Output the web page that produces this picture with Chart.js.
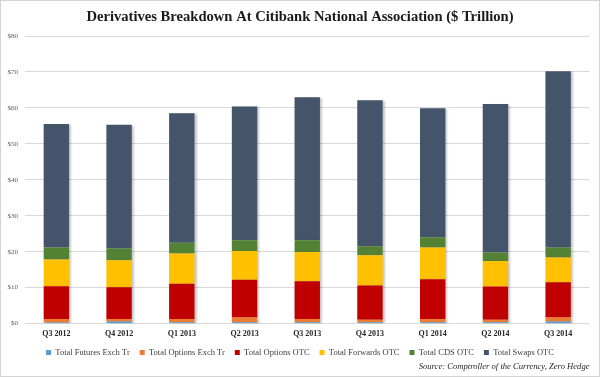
<!DOCTYPE html>
<html>
<head>
<meta charset="utf-8">
<script src="https://cdn.jsdelivr.net/npm/chart.js@4/dist/chart.umd.min.js"></script>
<style>
  html, body { margin: 0; padding: 0; background: #fff; }
  #wrap { width: 600px; height: 377px; }
</style>
</head>
<body>
<div id="wrap"><canvas id="chart" width="600" height="377"></canvas></div>
<script>
const quarters = ['Q3 2012', 'Q4 2012', 'Q1 2013', 'Q2 2013', 'Q3 2013', 'Q4 2013', 'Q1 2014', 'Q2 2014', 'Q3 2014'];

// $ trillion
const futuresExch = [0.3, 0.6, 0.4, 0.4, 0.4, 0.4, 0.4, 0.4, 0.6];
const optionsExch = [1.0, 0.7, 0.9, 1.3, 0.9, 0.7, 0.9, 0.7, 1.1];
const optionsOtc  = [9.1, 8.8, 9.8, 10.5, 10.5, 9.5, 11.0, 9.2, 9.8];
const forwardsOtc = [7.4, 7.5, 8.4, 8.0, 8.1, 8.4, 8.9, 7.1, 6.9];
const cdsOtc      = [3.4, 3.3, 3.0, 3.0, 3.3, 2.5, 2.8, 2.4, 2.8];
const swapsOtc    = [34.3, 34.4, 36.0, 37.2, 39.8, 40.6, 35.9, 41.3, 49.0];

const yTicks = [0, 10, 20, 30, 40, 50, 60, 70, 80];

const serif = "'Liberation Serif', 'DejaVu Serif', serif";

// soft shadow to the right of the bars, plus the thin frame round the picture
const extras = {
  id: 'extras',
  beforeDatasetsDraw(chart) {
    const ctx = chart.ctx;
    ctx.save();
    ctx.shadowColor = 'rgba(0,0,0,0.22)';
    ctx.shadowOffsetX = 2;
    ctx.shadowOffsetY = 1;
    ctx.shadowBlur = 2;
  },
  afterDatasetsDraw(chart) {
    chart.ctx.restore();
  },
  afterDraw(chart) {
    const ctx = chart.ctx;
    ctx.save();
    ctx.strokeStyle = '#d4d4d4';
    ctx.lineWidth = 1;
    ctx.strokeRect(0.5, 0.5, chart.width - 1, chart.height - 1);
    ctx.restore();
  }
};

const ds = (label, data, color) => ({
  label, data, backgroundColor: color, borderWidth: 0,
  barPercentage: 0.405, categoryPercentage: 1.0
});

new Chart(document.getElementById('chart').getContext('2d'), {
  type: 'bar',
  data: {
    labels: quarters,
    datasets: [
      ds('Total Futures Exch Tr', futuresExch, '#5b9bd5'),
      ds('Total Options Exch Tr', optionsExch, '#ed7d31'),
      ds('Total Options OTC', optionsOtc, '#c00000'),
      ds('Total Forwards OTC', forwardsOtc, '#ffc000'),
      ds('Total CDS OTC', cdsOtc, '#548235'),
      ds('Total Swaps OTC', swapsOtc, '#44546a')
    ]
  },
  options: {
    responsive: false,
    animation: false,
    layout: { padding: 0 },
    plugins: {
      title: {
        display: true,
        text: 'Derivatives Breakdown At Citibank National Association ($ Trillion)',
        color: '#1a1a1a',
        font: { family: serif, size: 14.6, weight: 'bold' },
        padding: { top: 8.3, bottom: 10.2 }
      },
      legend: {
        position: 'bottom',
        labels: {
          boxWidth: 5,
          boxHeight: 5,
          padding: 10,
          color: '#404040',
          font: { family: serif, size: 8.5 }
        }
      },
      subtitle: {
        display: true,
        position: 'bottom',
        align: 'end',
        fullSize: false,
        text: 'Source: Comptroller of the Currency, Zero Hedge',
        color: '#262626',
        font: { family: serif, size: 8.6, style: 'italic' },
        padding: { top: -5, bottom: 5 }
      },
      tooltip: { enabled: false }
    },
    scales: {
      x: {
        stacked: true,
        grid: { display: false, drawTicks: false },
        border: { display: false },
        afterFit(scale) { scale.height = scale.height - 7; },
        ticks: {
          color: '#262626',
          padding: 6,
          font: { family: serif, size: 8, weight: 'bold' }
        }
      },
      y: {
        stacked: true,
        min: yTicks[0],
        max: yTicks[yTicks.length - 1],
        afterBuildTicks(scale) { scale.ticks = yTicks.map(v => ({ value: v })); },
        afterFit(scale) { scale.width = 25; },
        grid: { color: '#d9d9d9', drawTicks: false },
        border: { display: false },
        ticks: {
          color: '#595959',
          padding: 7,
          font: { family: serif, size: 7 },
          callback: v => '$' + v
        }
      },
      // empty right-hand margin so the title and legend stay centred on the page
      yRight: {
        position: 'right',
        grid: { display: false, drawTicks: false },
        border: { display: false },
        ticks: { display: false },
        afterFit(scale) { scale.width = 10.5; }
      }
    }
  },
  plugins: [extras]
});
</script>
</body>
</html>
